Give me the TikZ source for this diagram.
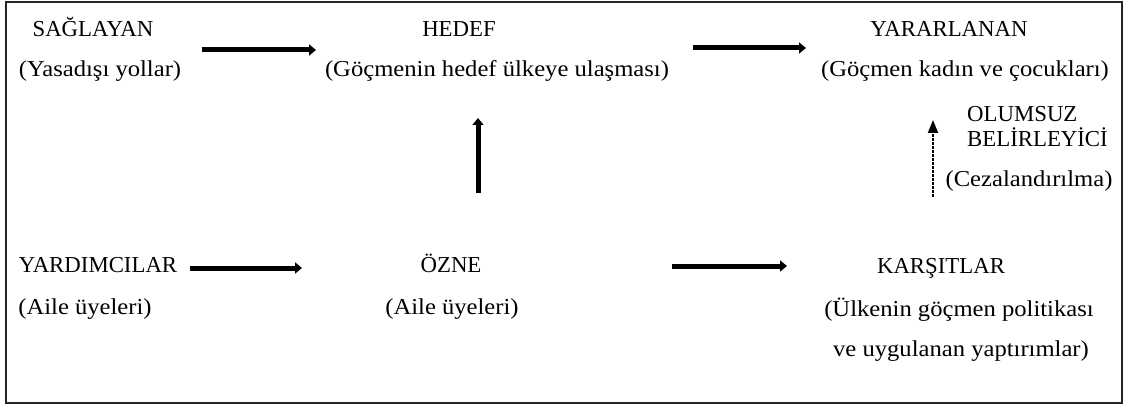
\documentclass[tikz,border=0pt]{standalone}
\usepackage{fontspec}
\setmainfont{Liberation Serif}
\newfontfamily\widefont{Liberation Serif}[FakeStretch=1.08]
\usetikzlibrary{arrows.meta}
\begin{document}
\begin{tikzpicture}[x=1pt,y=-1pt,
  lbl/.style={inner sep=0pt,anchor=base,font=\fontsize{22.8}{26}\selectfont},
  sub/.style={inner sep=0pt,anchor=base,font=\widefont\fontsize{22.8}{26}\selectfont},
  thick arrow/.style={line width=5pt,-{Triangle[length=7pt,width=11pt]}},
  dash arrow/.style={line width=2pt,dash pattern=on 2.5pt off 1.5pt,-{Triangle[length=13pt,width=10pt]}},
  frame/.style={draw=black!85,line width=1.6pt}]
\useasboundingbox (0,0) rectangle (1129,406);
\draw[frame] (6,2) rectangle (1122,403);
% top row
\node[lbl] (sag) at (93,37) {SAĞLAYAN};
\node[sub] (sagsub) at (100,77) {(Yasadışı yollar)};
\node[lbl] (hed) at (459,37) {HEDEF};
\node[sub] (hedsub) at (497,77) {(Göçmenin hedef ülkeye ulaşması)};
\node[lbl] (yar) at (949,37) {YARARLANAN};
\node[sub] (yarsub) at (965,77) {(Göçmen kadın ve çocukları)};
\node[lbl,anchor=base west] (olm) at (967,122) {OLUMSUZ};
\node[lbl,anchor=base west] (bel) at (967,147) {BELİRLEYİCİ};
\node[sub] (cez) at (1029,186) {(Cezalandırılma)};
% bottom row
\node[lbl] (yrd) at (98,272) {YARDIMCILAR};
\node[sub] (yrdsub) at (85,314) {(Aile üyeleri)};
\node[lbl] (ozn) at (451,272) {ÖZNE};
\node[sub] (oznsub) at (452,314) {(Aile üyeleri)};
\node[lbl] (kar) at (941,273) {KARŞITLAR};
\node[sub] (kar1) at (959,316) {(Ülkenin göçmen politikası};
\node[sub] (kar2) at (961,356) {ve uygulanan yaptırımlar)};
% arrow end points
\coordinate (a1s) at (202,50); \coordinate (a1e) at (316,50);
\coordinate (a2s) at (693,48); \coordinate (a2e) at (806,48);
\coordinate (a3s) at (190,268); \coordinate (a3e) at (302,268);
\coordinate (a4s) at (672,266); \coordinate (a4e) at (787,266);
\coordinate (v1s) at (478,193); \coordinate (v1e) at (478,118);
\coordinate (v2s) at (933,197); \coordinate (v2e) at (933,120);
\draw[thick arrow] (a1s) -- (a1e);
\draw[thick arrow] (a2s) -- (a2e);
\draw[thick arrow] (a3s) -- (a3e);
\draw[thick arrow] (a4s) -- (a4e);
\draw[thick arrow] (v1s) -- (v1e);
\draw[dash arrow] (v2s) -- (v2e);
\end{tikzpicture}
\end{document}
